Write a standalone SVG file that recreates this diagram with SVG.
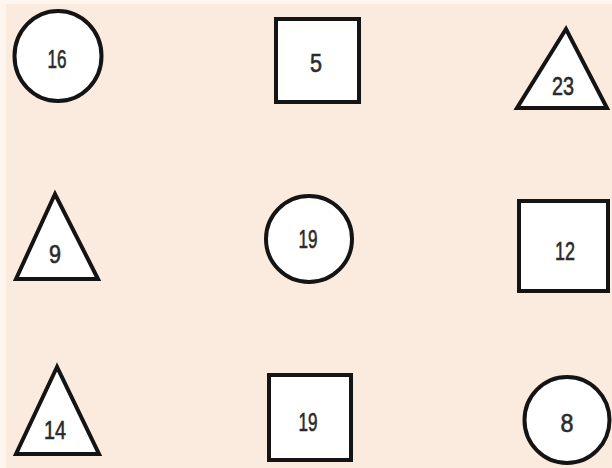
<svg xmlns="http://www.w3.org/2000/svg" width="612" height="468" viewBox="0 0 612 468">
<style>
.s{fill:#ffffff;stroke:#141414;stroke-width:4;stroke-linejoin:miter}
.t{font-family:"Liberation Sans",Arial,sans-serif;font-size:26px;fill:#2a2a2a;stroke:#2a2a2a;stroke-width:0.6;text-anchor:middle}
</style>
<rect x="0" y="0" width="612" height="468" fill="#fdf5ee"/>
<rect x="6" y="4" width="606" height="464" fill="#fbebdf"/>
<g id="n16"><ellipse class="s" cx="58" cy="56" rx="43.5" ry="45"/><text class="t" x="57" y="68" textLength="19" lengthAdjust="spacingAndGlyphs">16</text></g>
<g id="n5"><rect class="s" x="276" y="19" width="83" height="83"/><text class="t" x="316" y="72" textLength="12" lengthAdjust="spacingAndGlyphs">5</text></g>
<g id="n23"><polygon class="s" points="566,29 517,108 607,108"/><text class="t" x="563" y="95" textLength="22" lengthAdjust="spacingAndGlyphs">23</text></g>
<g id="n9"><polygon class="s" points="55,194 16,279 98,279"/><text class="t" x="55" y="263" textLength="12" lengthAdjust="spacingAndGlyphs">9</text></g>
<g id="n19a"><circle class="s" cx="309" cy="239" r="43"/><text class="t" x="308" y="248" textLength="19" lengthAdjust="spacingAndGlyphs">19</text></g>
<g id="n12"><rect class="s" x="519" y="201" width="89" height="90"/><text class="t" x="565" y="260" textLength="20" lengthAdjust="spacingAndGlyphs">12</text></g>
<g id="n14"><polygon class="s" points="57,367 16,454 99,454"/><text class="t" x="55" y="439" textLength="22" lengthAdjust="spacingAndGlyphs">14</text></g>
<g id="n19b"><rect class="s" x="269" y="375" width="82" height="85"/><text class="t" x="308" y="431" textLength="19" lengthAdjust="spacingAndGlyphs">19</text></g>
<g id="n8"><ellipse class="s" cx="567" cy="420" rx="42.5" ry="43"/><text class="t" x="567" y="432" textLength="13" lengthAdjust="spacingAndGlyphs">8</text></g>
<g id="connectors"/>
</svg>
